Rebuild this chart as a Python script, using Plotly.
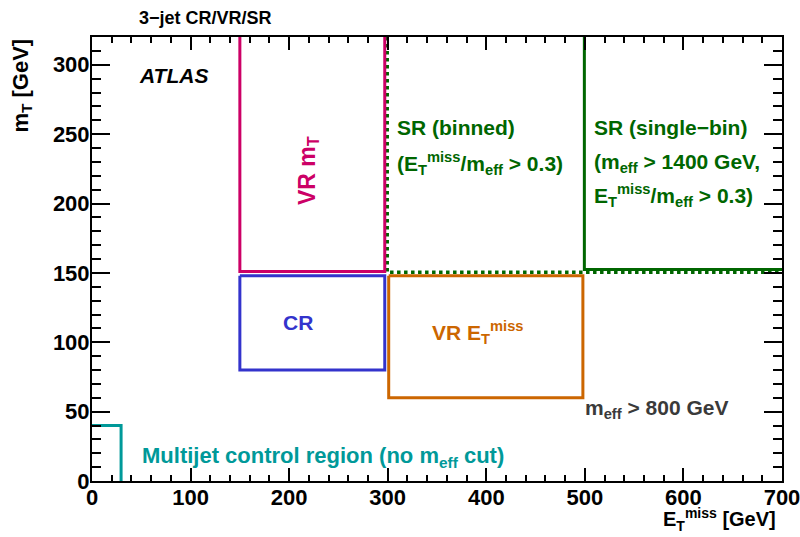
import plotly.graph_objects as go

# Region boundaries in (E_T^miss, m_T) [GeV]
vr_mt_x = [150, 150, 297, 297]
vr_mt_y = [320, 151, 151, 320]

cr_x = [150, 150, 297, 297, 150]
cr_y = [148, 80, 80, 148, 148]

vr_met_x = [301, 301, 498, 498, 301]
vr_met_y = [148, 60, 60, 148, 148]

sr_binned_x = [299.5, 299.5, 700]
sr_binned_y = [320, 150.5, 150.5]

sr_single_x = [499.5, 499.5, 700]
sr_single_y = [320, 152.5, 152.5]

multijet_x = [0, 29.5, 29.5]
multijet_y = [40, 40, 0]

x_ticks = [0, 100, 200, 300, 400, 500, 600, 700]
y_ticks = [0, 50, 100, 150, 200, 250, 300]

PINK = "#cc0066"
BLUE = "#3333cc"
ORANGE = "#cc6600"
GREEN = "#006600"
TEAL = "#009999"
GREY = "#3a3a3a"
FONT = "Liberation Sans"

fig = go.Figure()

def region(xs, ys, color, dash="solid", width=3):
    fig.add_trace(go.Scatter(x=xs, y=ys, mode="lines",
                             line=dict(color=color, width=width, dash=dash),
                             hoverinfo="skip", showlegend=False))

region(sr_binned_x, sr_binned_y, GREEN, dash="dot", width=3.5)
region(sr_single_x, sr_single_y, GREEN)
region(vr_mt_x, vr_mt_y, PINK)
region(cr_x, cr_y, BLUE)
region(vr_met_x, vr_met_y, ORANGE)
region(multijet_x, multijet_y, TEAL)

def label(x, y, text, color, size=21, xanchor="left", angle=0, italic=False):
    fig.add_annotation(x=x, y=y, xref="x", yref="y", text=text, showarrow=False,
                       xanchor=xanchor, yanchor="middle", textangle=angle,
                       font=dict(family=FONT, size=size, color=color, weight="bold",
                                 style="italic" if italic else "normal"))

MET = "E<sub>T</sub><sup>miss</sup>"
MEFF = "m<sub>eff</sub>"

label(46, 292, "ATLAS", "black", size=21, italic=True)
label(219, 224, "VR m<sub>T</sub>", PINK, size=23, angle=-90, xanchor="center")
label(208.5, 114, "CR", BLUE, xanchor="center")
label(391, 107, "VR " + MET, ORANGE, xanchor="center")
label(307, 254.5, "SR (binned)", GREEN)
label(307, 229, "(" + MET + "/" + MEFF + " &gt; 0.3)", GREEN)
label(507.5, 254.5, "SR (single\u2212bin)", GREEN)
label(507.5, 229, "(" + MEFF + " &gt; 1400 GeV,", GREEN)
label(507.5, 206, MET + "/" + MEFF + " &gt; 0.3)", GREEN)
label(498.5, 52, MEFF + " &gt; 800 GeV", GREY)
label(48.5, 17, "Multijet control region (no " + MEFF + " cut)", TEAL, size=22)

# Title and axis titles
fig.add_annotation(x=0.065, y=1.043, xref="paper", yref="paper", showarrow=False,
                   xanchor="left", yanchor="middle", text="3\u2212jet CR/VR/SR",
                   font=dict(family=FONT, size=18, color="black", weight="bold"))
fig.add_annotation(x=-0.102, y=1.0, xref="paper", yref="paper", showarrow=False,
                   xanchor="center", yanchor="top", textangle=-90,
                   text="m<sub>T</sub> [GeV]",
                   font=dict(family=FONT, size=22, color="black", weight="bold"))
fig.add_annotation(x=0.994, y=-0.086, xref="paper", yref="paper", showarrow=False,
                   xanchor="right", yanchor="middle",
                   text=MET + " [GeV]",
                   font=dict(family=FONT, size=20, color="black", weight="bold"))

axis_common = dict(showgrid=False, zeroline=False, showline=True, linecolor="black",
                   linewidth=2, mirror="ticks", ticks="inside", tickcolor="black",
                   tickwidth=1.5, ticklabeloverflow="allow", ticklabelstandoff=-4,
                   automargin=False,
                   tickfont=dict(family=FONT, size=22, color="black", weight="bold"))

fig.update_xaxes(range=[0, 700], tickvals=x_ticks, ticklen=13,
                 minor=dict(ticks="inside", dtick=20, ticklen=6, tickcolor="black",
                            tickwidth=1.5, showgrid=False),
                 **axis_common)
fig.update_yaxes(range=[0, 320], tickvals=y_ticks, ticklen=18,
                 minor=dict(ticks="inside", dtick=10, ticklen=9, tickcolor="black",
                            tickwidth=1.5, showgrid=False),
                 **axis_common)

fig.update_layout(width=800, height=537, margin=dict(l=92, r=18, t=37, b=56),
                  plot_bgcolor="white", paper_bgcolor="white")

fig.write_html("out.html")
